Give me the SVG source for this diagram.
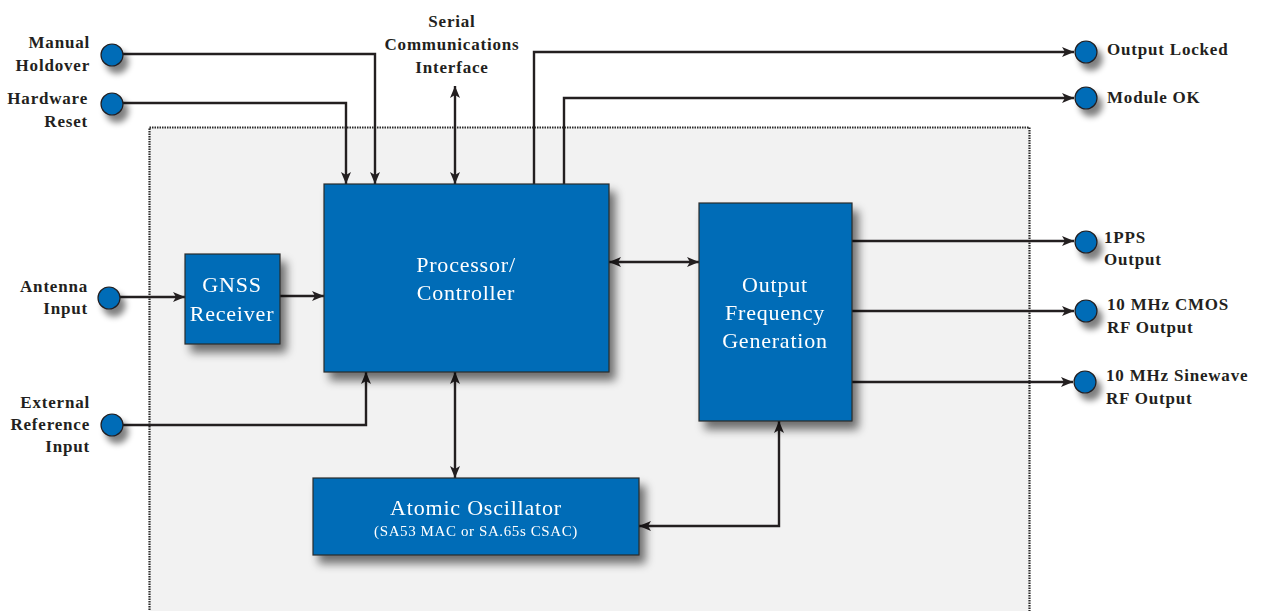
<svg xmlns="http://www.w3.org/2000/svg" width="1261" height="611" viewBox="0 0 1261 611">
  <style>
    .lbl { font-family: "Liberation Serif", "Times New Roman", serif; font-weight: bold; font-size: 17px; letter-spacing: 0.8px; fill: #231f20; }
    .blk { fill: #006cb7; stroke: #2b2b2b; stroke-width: 1.2; }
    .blktxt { font-family: "Liberation Serif", "Times New Roman", serif; font-size: 22px; letter-spacing: 0.8px; fill: #ffffff; text-anchor: middle; }
    .sub { font-size: 15px; letter-spacing: 0.6px; }
    .port { fill: #006cb7; stroke: #231f20; stroke-width: 1.2; }
    .wire { fill: none; stroke: #231f20; stroke-width: 2.4; }
  </style>
  <defs>
    <filter id="shadow" x="-20%" y="-20%" width="150%" height="150%">
      <feGaussianBlur in="SourceAlpha" stdDeviation="5"/>
      <feOffset dx="6" dy="8" result="b"/>
      <feComponentTransfer><feFuncA type="linear" slope="0.55"/></feComponentTransfer>
      <feMerge><feMergeNode/><feMergeNode in="SourceGraphic"/></feMerge>
    </filter>
    <filter id="pshadow" x="-60%" y="-60%" width="260%" height="260%">
      <feGaussianBlur in="SourceAlpha" stdDeviation="3"/>
      <feOffset dx="5" dy="7" result="b"/>
      <feComponentTransfer><feFuncA type="linear" slope="0.5"/></feComponentTransfer>
      <feMerge><feMergeNode/><feMergeNode in="SourceGraphic"/></feMerge>
    </filter>
    <marker id="ah" viewBox="0 0 12 10" refX="12" refY="5" markerWidth="12" markerHeight="10" markerUnits="userSpaceOnUse" orient="auto-start-reverse">
      <path d="M0,0 L12,5 L0,10 L3,5 Z" fill="#231f20"/>
    </marker>
  </defs>

  <rect width="1261" height="611" fill="#ffffff"/>

  <!-- module enclosure -->
  <rect id="enclosure" x="149.5" y="127.5" width="880" height="490" fill="#f2f2f2" stroke="#2a2a2a" stroke-width="2.2" stroke-dasharray="1.5 1"/>

  <!-- connectors -->
  <g id="connectors">
    <path class="wire" d="M123,54 H375 V184" marker-end="url(#ah)"/>
    <path class="wire" d="M123,103 H346 V184" marker-end="url(#ah)"/>
    <path class="wire" d="M455,86 V184" marker-start="url(#ah)" marker-end="url(#ah)"/>
    <path class="wire" d="M534,184 V52 H1074" marker-end="url(#ah)"/>
    <path class="wire" d="M564,184 V98 H1074" marker-end="url(#ah)"/>
    <path class="wire" d="M120,297 H185" marker-end="url(#ah)"/>
    <path class="wire" d="M280,296 H324" marker-end="url(#ah)"/>
    <path class="wire" d="M123,425 H366 V372" marker-end="url(#ah)"/>
    <path class="wire" d="M609,262 H699" marker-start="url(#ah)" marker-end="url(#ah)"/>
    <path class="wire" d="M455,372 V478" marker-start="url(#ah)" marker-end="url(#ah)"/>
    <path class="wire" d="M639,526 H779 V421" marker-start="url(#ah)" marker-end="url(#ah)"/>
    <path class="wire" d="M852,241 H1074" marker-end="url(#ah)"/>
    <path class="wire" d="M852,311 H1074" marker-end="url(#ah)"/>
    <path class="wire" d="M852,382 H1073" marker-end="url(#ah)"/>
  </g>

  <!-- functional blocks -->
  <g id="gnss" filter="url(#shadow)">
    <rect class="blk" x="185" y="254" width="95" height="90"/>
    <text class="blktxt" x="232" y="292">GNSS</text>
    <text class="blktxt" x="232" y="321">Receiver</text>
  </g>
  <g id="processor" filter="url(#shadow)">
    <rect class="blk" x="324" y="184" width="285" height="188"/>
    <text class="blktxt" x="466" y="272">Processor/</text>
    <text class="blktxt" x="466" y="300">Controller</text>
  </g>
  <g id="ofg" filter="url(#shadow)">
    <rect class="blk" x="699" y="203" width="153" height="218"/>
    <text class="blktxt" x="775" y="292">Output</text>
    <text class="blktxt" x="775" y="320">Frequency</text>
    <text class="blktxt" x="775" y="348">Generation</text>
  </g>
  <g id="atomic" filter="url(#shadow)">
    <rect class="blk" x="313" y="478" width="326" height="77"/>
    <text class="blktxt" x="476" y="515">Atomic Oscillator</text>
    <text class="blktxt sub" x="476" y="536">(SA53 MAC or SA.65s CSAC)</text>
  </g>

  <!-- input ports -->
  <g id="manual-holdover">
    <circle class="port" cx="112" cy="55" r="11" filter="url(#pshadow)"/>
    <text class="lbl" x="90" y="48" text-anchor="end">Manual</text>
    <text class="lbl" x="90" y="71" text-anchor="end">Holdover</text>
  </g>
  <g id="hardware-reset">
    <circle class="port" cx="112" cy="104" r="11" filter="url(#pshadow)"/>
    <text class="lbl" x="88" y="104" text-anchor="end">Hardware</text>
    <text class="lbl" x="88" y="127" text-anchor="end">Reset</text>
  </g>
  <g id="serial">
    <text class="lbl" x="452" y="27" text-anchor="middle">Serial</text>
    <text class="lbl" x="452" y="50" text-anchor="middle">Communications</text>
    <text class="lbl" x="452" y="73" text-anchor="middle">Interface</text>
  </g>
  <g id="antenna-input">
    <circle class="port" cx="109" cy="298" r="11" filter="url(#pshadow)"/>
    <text class="lbl" x="88" y="292" text-anchor="end">Antenna</text>
    <text class="lbl" x="88" y="314" text-anchor="end">Input</text>
  </g>
  <g id="external-reference">
    <circle class="port" cx="112" cy="425" r="11" filter="url(#pshadow)"/>
    <text class="lbl" x="90" y="408" text-anchor="end">External</text>
    <text class="lbl" x="90" y="430" text-anchor="end">Reference</text>
    <text class="lbl" x="90" y="452" text-anchor="end">Input</text>
  </g>

  <!-- output ports -->
  <g id="output-locked">
    <circle class="port" cx="1086" cy="52" r="11" filter="url(#pshadow)"/>
    <text class="lbl" x="1107" y="55">Output Locked</text>
  </g>
  <g id="module-ok">
    <circle class="port" cx="1086" cy="98" r="11" filter="url(#pshadow)"/>
    <text class="lbl" x="1107" y="103">Module OK</text>
  </g>
  <g id="pps-output">
    <circle class="port" cx="1086" cy="242" r="11" filter="url(#pshadow)"/>
    <text class="lbl" x="1104" y="243">1PPS</text>
    <text class="lbl" x="1104" y="265">Output</text>
  </g>
  <g id="cmos-output">
    <circle class="port" cx="1086" cy="311" r="11" filter="url(#pshadow)"/>
    <text class="lbl" x="1107" y="310">10 MHz CMOS</text>
    <text class="lbl" x="1107" y="333">RF Output</text>
  </g>
  <g id="sine-output">
    <circle class="port" cx="1085" cy="382" r="11" filter="url(#pshadow)"/>
    <text class="lbl" x="1106" y="381">10 MHz Sinewave</text>
    <text class="lbl" x="1106" y="404">RF Output</text>
  </g>
</svg>
